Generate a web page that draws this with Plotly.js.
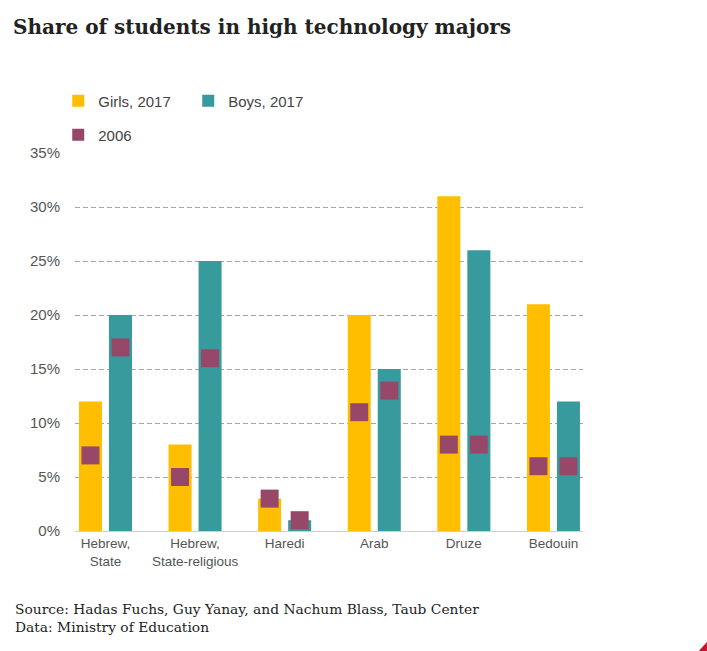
<!DOCTYPE html>
<html>
<head>
<meta charset="utf-8">
<script src="https://cdn.plot.ly/plotly-3.0.1.min.js"></script>
<style>
  html, body { margin: 0; padding: 0; background: #fff; }
  #chart { width: 707px; height: 651px; }
</style>
</head>
<body>
<div id="chart"></div>
<script>
// values (percent)
var categories = ['Hebrew,<br>State', 'Hebrew,<br>State-religious', 'Haredi', 'Arab', 'Druze', 'Bedouin'];
var girls2017 = [12, 8, 3, 20, 31, 21];
var boys2017 = [20, 25, 1, 15, 26, 12];
var girls2006 = [7, 5, 3, 11, 8, 6];
var boys2006 = [17, 16, 1, 13, 8, 6];
var yTicks = [0, 5, 10, 15, 20, 25, 30, 35];

var YELLOW = '#ffbf00';
var TEAL = '#379a9c';
var PLUM = '#974869';

// bars sit either side of the category slot
var shift = 0.1675;
var idx = categories.map(function (c, i) { return i; });
var xGirls = idx.map(function (i) { return i - shift; });
var xBoys = idx.map(function (i) { return i + shift; });

var traces = [
    {
        type: 'bar', name: 'Girls, 2017',
        x: xGirls, y: girls2017, width: 0.257,
        marker: { color: YELLOW },
        hovertemplate: '%{y}%<extra>Girls, 2017</extra>'
    },
    {
        type: 'bar', name: 'Boys, 2017',
        x: xBoys, y: boys2017, width: 0.257,
        marker: { color: TEAL },
        hovertemplate: '%{y}%<extra>Boys, 2017</extra>'
    },
    {
        type: 'scatter', mode: 'markers', name: '2006', legend: 'legend2',
        legendgroup: '2006',
        x: xGirls, y: girls2006,
        marker: { symbol: 'square', size: 18, color: PLUM },
        hovertemplate: 'Girls: %{y}%<extra>2006</extra>'
    },
    {
        type: 'scatter', mode: 'markers', name: '2006', legend: 'legend2',
        legendgroup: '2006', showlegend: false,
        x: xBoys, y: boys2006,
        marker: { symbol: 'square', size: 18, color: PLUM },
        hovertemplate: 'Boys: %{y}%<extra>2006</extra>'
    }
];

var legendFont = { family: 'Liberation Sans, Arial, sans-serif', size: 15, color: '#444' };

var layout = {
    width: 707,
    height: 651,
    margin: { l: 75, r: 124, t: 153, b: 120 },
    paper_bgcolor: '#fff',
    plot_bgcolor: '#fff',
    barmode: 'overlay',
    showlegend: true,
    title: {
        text: 'Share of students in high technology majors',
        xref: 'container', x: 0.0184, xanchor: 'left',
        yref: 'container', y: 0.958, yanchor: 'middle',
        font: { family: 'DejaVu Serif, serif', size: 20, color: '#222', weight: 'bold' }
    },
    legend: {
        orientation: 'h',
        x: -0.033, xanchor: 'left',
        y: 1.1376, yanchor: 'middle',
        bgcolor: 'rgba(0,0,0,0)',
        font: legendFont,
        itemsizing: 'constant',
        entrywidth: 85,
        itemclick: false, itemdoubleclick: false
    },
    legend2: {
        orientation: 'h',
        x: -0.033, xanchor: 'left',
        y: 1.0476, yanchor: 'middle',
        bgcolor: 'rgba(0,0,0,0)',
        font: legendFont,
        itemsizing: 'constant',
        itemclick: false, itemdoubleclick: false
    },
    xaxis: {
        range: [-0.34, 5.33],
        tickvals: idx,
        ticktext: categories,
        showgrid: false,
        zeroline: false,
        showline: true,
        linecolor: '#cfcfcf',
        linewidth: 1,
        ticks: '',
        ticklabelstandoff: 0,
        tickfont: { family: 'Liberation Sans, Arial, sans-serif', size: 13.5, color: '#555' },
        fixedrange: true
    },
    yaxis: {
        range: [0, 35],
        tickvals: yTicks,
        ticktext: yTicks.map(function (v) { return v + '%'; }),
        showgrid: true,
        gridcolor: '#a6a6a6',
        griddash: '5px,3px',
        gridwidth: 1,
        zeroline: false,
        showline: false,
        ticks: '',
        ticklabelstandoff: 14,
        tickfont: { family: 'Liberation Sans, Arial, sans-serif', size: 15, color: '#555' },
        fixedrange: true
    },
    annotations: [
        {
            xref: 'paper', yref: 'paper',
            x: -0.122, xanchor: 'left',
            y: -0.229, yanchor: 'middle',
            align: 'left',
            showarrow: false,
            text: 'Source: Hadas Fuchs, Guy Yanay, and Nachum Blass, Taub Center<br>Data: Ministry of Education',
            font: { family: 'DejaVu Serif, serif', size: 13.8, color: '#222' }
        }
    ],
    shapes: [
        // little red corner mark
        {
            type: 'path', xref: 'paper', yref: 'paper',
            path: 'M 1.228,-0.3175 L 1.244,-0.3175 L 1.244,-0.2937 Z',
            fillcolor: '#c8102e', line: { width: 0 }
        }
    ]
};

Plotly.newPlot('chart', traces, layout, { displayModeBar: false, responsive: false });
</script>
</body>
</html>
